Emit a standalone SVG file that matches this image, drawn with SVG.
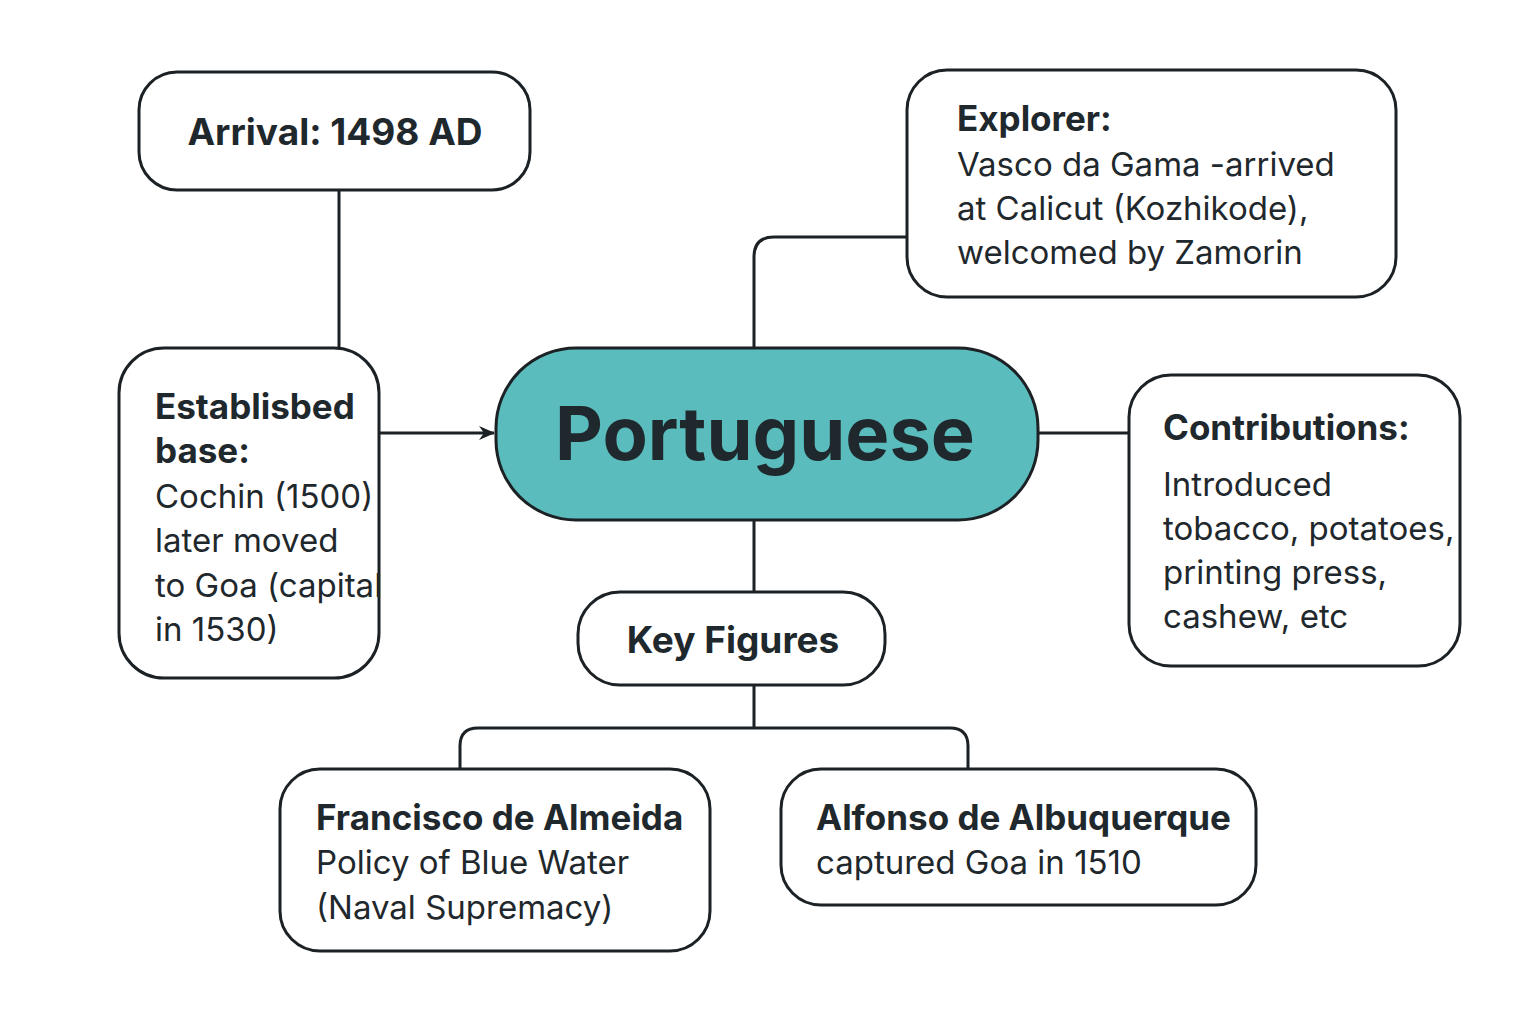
<svg xmlns="http://www.w3.org/2000/svg" width="1536" height="1024" viewBox="0 0 1536 1024">
<style>
.box{fill:#ffffff;stroke:#1b2124;stroke-width:3}
.main{fill:#5bbcbd;stroke:#1b2124;stroke-width:3}
.con{fill:none;stroke:#1b2124;stroke-width:3}
text{font-family:Inter,Roboto,"Liberation Sans",sans-serif;fill:#1f282c}
.b{font-weight:700;font-size:35px}
.r{font-weight:400;font-size:33px}
</style>
<defs>
<marker id="arr" markerWidth="16" markerHeight="14" refX="15" refY="7" orient="auto" markerUnits="userSpaceOnUse">
<path d="M0,0 L16,7 L0,14 L5,7 Z" fill="#1b2124"/>
</marker>
</defs>
<rect width="1536" height="1024" fill="#ffffff"/>
<g id="connectors">
<path class="con" d="M339,190 V348"/>
<path class="con" d="M379,433 H494" marker-end="url(#arr)"/>
<path class="con" d="M754,348 V257 Q754,237 774,237 H907"/>
<path class="con" d="M1038,433 H1129"/>
<path class="con" d="M754,520 V592"/>
<path class="con" d="M754,685 V728"/>
<path class="con" d="M460,769 V746 Q460,728 478,728 H950 Q968,728 968,746 V769"/>
</g>
<g id="arrival">
<rect class="box" x="139" y="72" width="391" height="118" rx="38"/>
<text class="b" x="335" y="145" text-anchor="middle" style="font-size:37px">Arrival: 1498 AD</text>
</g>
<g id="explorer">
<rect class="box" x="907" y="70" width="489" height="227" rx="40"/>
<text class="b" x="957" y="131">Explorer:</text>
<text class="r" x="957" y="176">Vasco da Gama -arrived</text>
<text class="r" x="957" y="220">at Calicut (Kozhikode),</text>
<text class="r" x="957" y="264">welcomed by Zamorin</text>
</g>
<g id="established">
<rect class="box" x="119" y="348" width="260" height="330" rx="45"/>
<text class="b" x="155" y="419">Establisbed</text>
<text class="b" x="155" y="463">base:</text>
<text class="r" x="155" y="508">Cochin (1500)</text>
<text class="r" x="155" y="552">later moved</text>
<text class="r" x="155" y="597">to Goa (capital</text>
<text class="r" x="155" y="641">in 1530)</text>
</g>
<g id="portuguese">
<rect class="main" x="496" y="348" width="542" height="172" rx="80"/>
<text x="765" y="460" text-anchor="middle" style="font-weight:700;font-size:74px">Portuguese</text>
</g>
<g id="contributions">
<rect class="box" x="1129" y="375" width="331" height="291" rx="42"/>
<text class="b" x="1163" y="440">Contributions:</text>
<text class="r" x="1163" y="496">Introduced</text>
<text class="r" x="1163" y="540">tobacco, potatoes,</text>
<text class="r" x="1163" y="584">printing press,</text>
<text class="r" x="1163" y="628">cashew, etc</text>
</g>
<g id="keyfigures">
<rect class="box" x="578" y="592" width="307" height="93" rx="42"/>
<text class="b" x="733" y="653" text-anchor="middle" style="font-size:37px">Key Figures</text>
</g>
<g id="almeida">
<rect class="box" x="280" y="769" width="430" height="182" rx="40"/>
<text class="b" x="316" y="830">Francisco de Almeida</text>
<text class="r" x="316" y="874">Policy of Blue Water</text>
<text class="r" x="316" y="919">(Naval Supremacy)</text>
</g>
<g id="albuquerque">
<rect class="box" x="781" y="769" width="475" height="136" rx="40"/>
<text class="b" x="816" y="830">Alfonso de Albuquerque</text>
<text class="r" x="816" y="874">captured Goa in 1510</text>
</g>
</svg>
